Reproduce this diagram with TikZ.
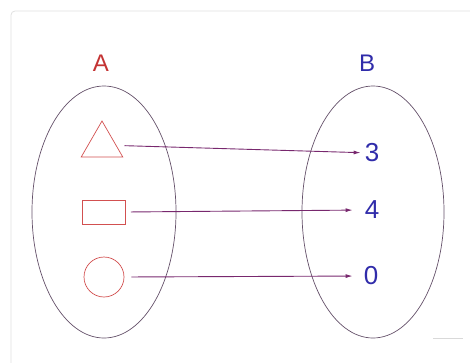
\documentclass[tikz,border=0pt]{standalone}
\usepackage{fontspec}
\setmainfont{Liberation Sans}
\usepackage{xcolor}
\usetikzlibrary{arrows.meta}
\usetikzlibrary{shapes.geometric, math}
\definecolor{setred}{RGB}{196,52,52}
\definecolor{shapered}{RGB}{210,80,80}
\definecolor{setblue}{RGB}{48,44,170}
\definecolor{ringcol}{RGB}{100,80,105}
\definecolor{arrowcol}{RGB}{120,40,110}

\begin{document}
\begin{tikzpicture}[x=1pt,y=-1pt,
  ring/.style={draw=ringcol,line width=0.7pt},
  elem/.style={draw=shapered,line width=0.7pt,inner sep=0pt},
  num/.style={text=setblue,font=\fontsize{26}{28}\selectfont,inner sep=0pt},
  maparrow/.style={draw=arrowcol,line width=0.9pt,-{Latex[length=7pt,width=4pt]}}]
\tikzmath{
\rx=72;
\ry=126;
}
\useasboundingbox (0,0) rectangle (470,362);

% card
\draw[draw=black!12,line width=0.8pt,rounded corners=4pt] (11,11) rectangle (490,380);
\draw[draw=black!15,line width=0.8pt] (433,338) -- (463,338);

\coordinate (CA) at (104,212);
\coordinate (CB) at (373,212);
\draw[ring] (CA) ellipse ({\rx} and {\ry});
\draw[ring] (CB) ellipse ({\rx-1} and {\ry});

\node[text=setred,font=\fontsize{24}{26}\selectfont] (labA) at (101,63) {A};
\node[text=setblue,font=\fontsize{24}{26}\selectfont] (labB) at (367,63) {B};

\node[elem,regular polygon,regular polygon sides=3,minimum size=48pt] (tri) at (102,145) {};
\node[elem,rectangle,minimum width=43pt,minimum height=24pt] (rect) at (104,212) {};
\node[elem,circle,minimum size=40pt] (circ) at (104,277) {};

\node[num] (n3) at (372,153) {3};
\node[num] (n4) at (372,210) {4};
\node[num] (n0) at (371,276) {0};

\draw[maparrow,shorten <=8pt,shorten >=4pt] (tri) -- (n3);
\draw[maparrow,shorten <=5pt,shorten >=12pt] (rect.east) -- (n4.west);
\draw[maparrow,shorten <=7pt,shorten >=11pt] (circ.east) -- (n0.west);

\end{tikzpicture}
\end{document}
